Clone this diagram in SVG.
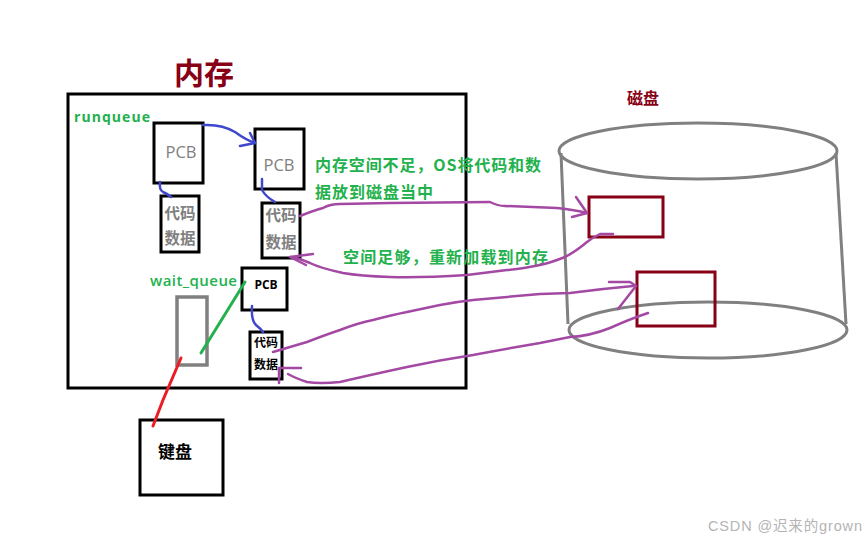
<svg xmlns="http://www.w3.org/2000/svg" width="867" height="541" viewBox="0 0 867 541">
<style>
.box{fill:#fff;stroke:#000;stroke-width:3}
.red{fill:none;stroke:#880015;stroke-width:3}
.gray{fill:none;stroke:#808080;stroke-width:3}
.pur{fill:none;stroke:#A349A4;stroke-width:2.5;stroke-linecap:round;stroke-linejoin:round}
.blu{fill:none;stroke:#3F48CC;stroke-width:2.5;stroke-linecap:round;stroke-linejoin:round}
.cjk{font-family:"Noto Sans CJK SC","Noto Sans",sans-serif;font-weight:bold}
.lat{font-family:"Open Sans","Noto Sans CJK SC",sans-serif}
.grn{fill:#22B14C}
</style>
<rect width="867" height="541" fill="#fff"/>

<g id="memory">
<rect x="68" y="94" width="398" height="294" fill="none" stroke="#000" stroke-width="3"/>
<text x="204" y="84" class="cjk" font-size="30" fill="#880015" text-anchor="middle">内存</text>
<text x="74" y="122" class="lat grn" font-size="14" font-weight="bold" textLength="76">runqueue</text>
<text x="150" y="286" class="lat grn" font-size="15" font-weight="600" textLength="87">wait_queue</text>
</g>

<g id="pcb1">
<rect class="box" x="154" y="123" width="49" height="60"/>
<text x="181" y="158" class="lat" font-size="16.5" fill="#808080" text-anchor="middle">PCB</text>
</g>
<g id="data1">
<rect class="box" x="161" y="196" width="38" height="56"/>
<text x="180" y="219" class="cjk" font-size="15.5" fill="#808080" text-anchor="middle">代码</text>
<text x="180" y="244" class="cjk" font-size="15.5" fill="#808080" text-anchor="middle">数据</text>
</g>
<g id="pcb2">
<rect class="box" x="255" y="129" width="49" height="60"/>
<text x="279" y="171" class="lat" font-size="16.5" fill="#808080" text-anchor="middle">PCB</text>
</g>
<g id="data2">
<rect class="box" x="262" y="203" width="38" height="55"/>
<text x="281" y="221" class="cjk" font-size="15.5" fill="#808080" text-anchor="middle">代码</text>
<text x="281" y="248" class="cjk" font-size="15.5" fill="#808080" text-anchor="middle">数据</text>
</g>
<g id="wait">
<rect x="177" y="297" width="30" height="68" fill="none" stroke="#808080" stroke-width="3.5"/>
</g>
<g id="pcb3">
<rect class="box" x="242" y="268" width="45" height="42" stroke-width="2.5"/>
<text x="266" y="289" class="lat" font-size="12" font-weight="bold" fill="#000" text-anchor="middle">PCB</text>
</g>
<g id="data3">
<rect class="box" x="250" y="332" width="32" height="47" stroke-width="2.5"/>
<text x="266" y="347" class="cjk" font-size="12" fill="#000" text-anchor="middle">代码</text>
<text x="266" y="369" class="cjk" font-size="12" fill="#000" text-anchor="middle">数据</text>
</g>
<g id="keyboard">
<rect class="box" x="140" y="420" width="83" height="75"/>
<text x="175" y="458" class="cjk" font-size="17" fill="#000" text-anchor="middle">键盘</text>
</g>

<g id="disk">
<text x="643" y="104" class="cjk" font-size="16" fill="#880015" text-anchor="middle">磁盘</text>
<ellipse class="gray" cx="698" cy="151" rx="139" ry="28"/>
<line class="gray" x1="561" y1="153" x2="568" y2="324"/>
<line class="gray" x1="836" y1="153" x2="846" y2="324"/>
<ellipse class="gray" cx="708" cy="330" rx="139" ry="28"/>
</g>
<g id="block1"><rect class="red" x="589" y="197" width="74" height="40"/></g>
<g id="block2"><rect class="red" x="637" y="272" width="78" height="54"/></g>

<g id="labels">
<text x="315" y="171" class="cjk grn" font-size="16" textLength="226">内存空间不足，OS将代码和数</text>
<text x="315" y="198" class="cjk grn" font-size="16" textLength="118">据放到磁盘当中</text>
<text x="343" y="263" class="cjk grn" font-size="16" textLength="205">空间足够，重新加载到内存</text>
</g>

<g id="connectors">
<path class="blu" d="M203 125 Q222 124 235 132 Q246 140 255 143"/>
<path class="blu" d="M250 133 L255 143 L240 146"/>
<path class="blu" d="M160 182 Q159 190 163 192 Q168 194 171 197"/>
<path class="blu" d="M262 179 L262 190 Q266 197 275 202"/>
<path class="blu" d="M252 306 Q251 320 256 325 Q261 329 263 332" stroke-width="1.8"/>
<line x1="245" y1="282" x2="201" y2="353" stroke="#22B14C" stroke-width="3" stroke-linecap="round"/>
<path d="M181 358 L163 400 L153 426" fill="none" stroke="#ED1C24" stroke-width="3" stroke-linecap="round"/>
<path class="pur" d="M300 216 Q315 210 323 208 Q330 204 340 204 L390 203 L490 202 Q498 206 505 206 L557 208 Q575 210 587 213"/>
<path class="pur" d="M576 197 L587 213 L572 217"/>
<path class="pur" d="M613 234 L600 234 Q592 238 587 242 Q575 252 565 257 Q550 263 540 265 Q520 269 507 270 L467 275 Q420 278 390 277 Q360 276 343 273 Q320 268 310 263 Q298 258 291 257"/>
<path class="pur" d="M313 254 L290 257 L306 265"/>
<path class="pur" d="M273 352 Q290 347 307 342 Q325 335 340 330 Q358 323 373 320 Q392 315 407 312 L440 305 Q455 302 473 300 L540 294 L570 293 Q600 289 633 286"/>
<path class="pur" d="M609 282 L630 282 L636 286 L618 309"/>
<path class="pur" d="M648 313 Q630 319 610 328 Q590 336 570 337 Q555 340 540 343 Q505 349 473 355 Q440 360 407 367 Q370 375 340 382 Q320 384 307 382 Q295 378 288 374"/>
<path class="pur" d="M301 368 L279 368 L279 383"/>
</g>

<text x="862" y="531" font-family="'Liberation Sans','Noto Sans CJK SC',sans-serif" font-size="14.5" fill="#b4b4b4" text-anchor="end" textLength="154">CSDN @迟来的grown</text>
</svg>
